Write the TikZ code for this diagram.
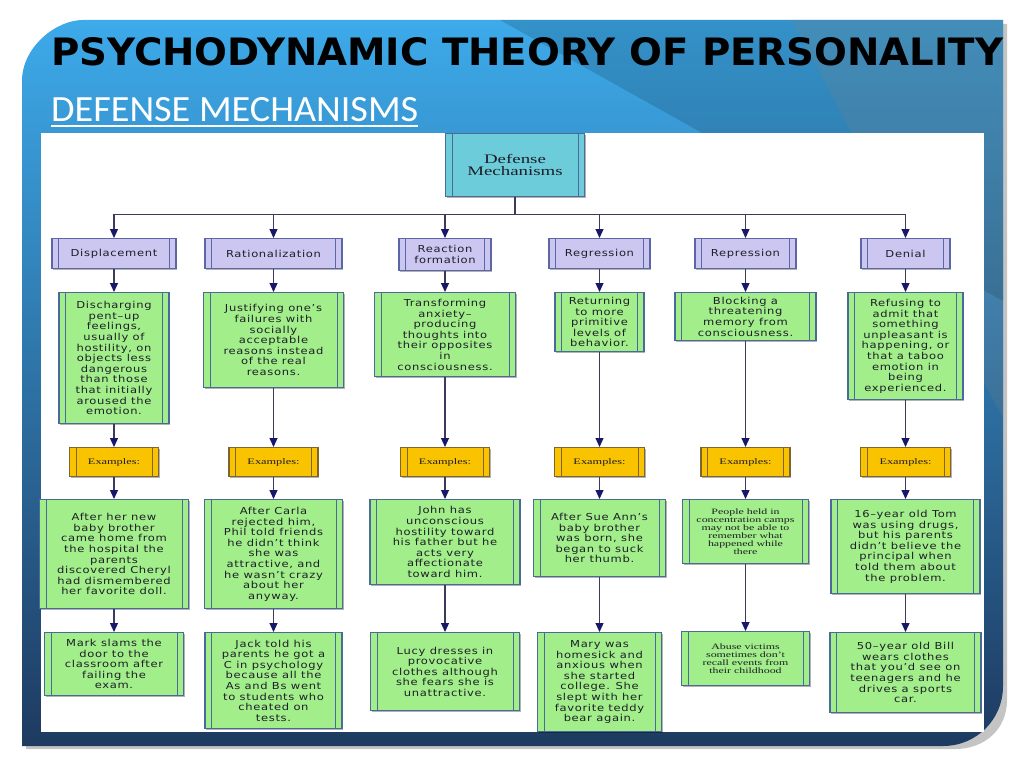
\documentclass[tikz,border=0pt]{standalone}
\usepackage{graphicx}
\usepackage{fontspec}
\setmainfont{Liberation Serif}
\newfontfamily\titlefont{DejaVu Sans}
\newfontfamily\subfont{Carlito}
\newfontfamily\boxsans{DejaVu Sans}[FakeStretch=1.2,LetterSpace=7]
\newfontfamily\boxserif{Liberation Serif}[FakeStretch=1.45]
\usetikzlibrary{arrows.meta,shadows,calc}
\definecolor{skyA}{HTML}{3DAAEA}
\definecolor{skyB}{HTML}{2C7DC0}
\definecolor{navyC}{HTML}{1E3A60}
\definecolor{shadowC}{HTML}{C4C4C4}
\definecolor{greenF}{HTML}{A2EE8A}
\definecolor{bordB}{HTML}{4A6A9C}
\definecolor{cyanF}{HTML}{6CCCDA}
\definecolor{lavF}{HTML}{CBC7F1}
\definecolor{lavB}{HTML}{5C66A6}
\definecolor{yelF}{HTML}{F9C300}
\definecolor{yelB}{HTML}{7D6430}
\definecolor{lineC}{HTML}{3C3C5A}
\definecolor{tipC}{HTML}{18186A}
\definecolor{txtC}{HTML}{1E1E28}
\tikzset{
  ppbox/.style={draw=#1, line width=1.3pt, inner sep=0pt, align=center, text=txtC, anchor=north,
    drop shadow={shadow xshift=1.3pt, shadow yshift=-1.3pt, opacity=0.3, fill=black},
    path picture={\draw[#1, line width=1pt]
      ([xshift=6.5pt]path picture bounding box.north west) -- ([xshift=6.5pt]path picture bounding box.south west)
      ([xshift=-6.5pt]path picture bounding box.north east) -- ([xshift=-6.5pt]path picture bounding box.south east);}},
  topbox/.style={ppbox=bordB, fill=cyanF, font=\boxserif\fontsize{13}{12.5}\selectfont},
  catbox/.style={ppbox=lavB, fill=lavF, minimum height=30, font=\boxsans\fontsize{9.6}{10.7}\selectfont},
  defbox/.style={ppbox=bordB, fill=greenF, font=\boxsans\fontsize{9.6}{10.6}\selectfont},
  serifbox/.style={ppbox=bordB, fill=greenF, font=\boxserif\fontsize{8.2}{7.9}\selectfont},
  exmbox/.style={ppbox=yelB, fill=yelF, minimum height=29, font=\boxserif\fontsize{8.5}{9}\selectfont},
  conn/.style={draw=lineC, line width=1.2pt, -{Triangle[width=8pt,length=9pt,color=tipC,fill=tipC]}},
}
\begin{document}
\begin{tikzpicture}[x=1pt,y=-1pt]
\useasboundingbox (0,0) rectangle (1024,768);
\fill[white] (0,0) rectangle (1024,768);
% panel
\fill[shadowC] (26,749) -- (26,85) .. controls (26,51.3) and (59.7,24) .. (87,24) -- (1007,24) -- (1007,700) .. controls (1007,729) and (985,749) .. (955,749) -- cycle;
\shade[top color=skyA, middle color=skyB, bottom color=navyC] (22,746) -- (22,81) .. controls (22,47.3) and (55.7,20) .. (83,20) -- (1003,20) -- (1003,686) .. controls (1003,719.7) and (976.3,746) .. (943,746) -- cycle;
\fill[black, opacity=0.14] (500,20) -- (1003,20) -- (1003,301) -- cycle;
\fill[gray, opacity=0.2] (792,20) -- (1003,20) -- (1003,418) -- cycle;
\fill[white] (41,133) rectangle (984,732);
% titles
\node[anchor=base west, inner sep=0pt, text=black] (title) at (51,66) {\resizebox{952pt}{28pt}{\titlefont\bfseries PSYCHODYNAMIC THEORY OF PERSONALITY}};
\node[anchor=base west, inner sep=0pt, text=white] (sub) at (51,121) {\resizebox{367pt}{24pt}{\subfont DEFENSE MECHANISMS}};
\draw[white, line width=2pt] ([yshift=-4.5pt]sub.base west) -- ([yshift=-4.5pt]sub.base east);
% top
\node[topbox, minimum width=139, minimum height=63] (top) at (515,133) {Defense\\Mechanisms};
% categories
\node[catbox, minimum width=124] (c1) at (114,238) {Displacement};
\node[catbox, minimum width=137] (c2) at (273.5,238) {Rationalization};
\node[catbox, minimum width=92, minimum height=32] (c3) at (445,238) {Reaction\\formation};
\node[catbox, minimum width=101] (c4) at (599.5,238) {Regression};
\node[catbox, minimum width=101] (c5) at (745.5,238) {Repression};
\node[catbox, minimum width=89] (c6) at (905.5,238) {Denial};
% definitions
\node[defbox, minimum width=110, minimum height=131] (d1) at (114,292) {Discharging\\pent–up\\feelings,\\usually of\\hostility, on\\objects less\\dangerous\\than those\\that initially\\aroused the\\emotion.};
\node[defbox, minimum width=140, minimum height=95] (d2) at (273.5,292) {Justifying one’s\\failures with\\socially\\acceptable\\reasons instead\\of the real\\reasons.};
\node[defbox, minimum width=141, minimum height=84] (d3) at (445,292) {Transforming\\anxiety–\\producing\\thoughts into\\their opposites\\in\\consciousness.};
\node[defbox, minimum width=89, minimum height=59] (d4) at (599.5,292) {Returning\\to more\\primitive\\levels of\\behavior.};
\node[defbox, minimum width=141, minimum height=48] (d5) at (745.5,292) {Blocking a\\threatening\\memory from\\consciousness.};
\node[defbox, minimum width=115, minimum height=107] (d6) at (905.5,292) {Refusing to\\admit that\\something\\unpleasant is\\happening, or\\that a taboo\\emotion in\\being\\experienced.};
% examples labels
\node[exmbox, minimum width=89] (e1) at (114,447) {Examples:};
\node[exmbox, minimum width=89] (e2) at (273.5,447) {Examples:};
\node[exmbox, minimum width=89] (e3) at (445,447) {Examples:};
\node[exmbox, minimum width=90] (e4) at (599.5,447) {Examples:};
\node[exmbox, minimum width=89] (e5) at (745.5,447) {Examples:};
\node[exmbox, minimum width=90] (e6) at (905.5,447) {Examples:};
% first examples
\node[defbox, minimum width=149, minimum height=109] (x1) at (114,499) {After her new\\baby brother\\came home from\\the hospital the\\parents\\discovered Cheryl\\had dismembered\\her favorite doll.};
\node[defbox, minimum width=138, minimum height=109] (x2) at (273.5,499) {After Carla\\rejected him,\\Phil told friends\\he didn’t think\\she was\\attractive, and\\he wasn’t crazy\\about her\\anyway.};
\node[defbox, minimum width=150, minimum height=85] (x3) at (445,499) {John has\\unconscious\\hostility toward\\his father but he\\acts very\\affectionate\\toward him.};
\node[defbox, minimum width=132, minimum height=77] (x4) at (599.5,499) {After Sue Ann’s\\baby brother\\was born, she\\began to suck\\her thumb.};
\node[serifbox, minimum width=126, minimum height=64] (x5) at (745.5,499) {People held in\\concentration camps\\may not be able to\\remember what\\happened while\\there};
\node[defbox, minimum width=149, minimum height=94] (x6) at (905.5,499) {16–year old Tom\\was using drugs,\\but his parents\\didn’t believe the\\principal when\\told them about\\the problem.};
% second examples
\node[defbox, minimum width=139, minimum height=63] (y1) at (114,632) {Mark slams the\\door to the\\classroom after\\failing the\\exam.};
\node[defbox, minimum width=137, minimum height=96] (y2) at (273.5,632) {Jack told his\\parents he got a\\C in psychology\\because all the\\As and Bs went\\to students who\\cheated on\\tests.};
\node[defbox, minimum width=149, minimum height=78] (y3) at (445,632) {Lucy dresses in\\provocative\\clothes although\\she fears she is\\unattractive.};
\node[defbox, minimum width=124, minimum height=99] (y4) at (599.5,632) {Mary was\\homesick and\\anxious when\\she started\\college. She\\slept with her\\favorite teddy\\bear again.};
\node[serifbox, minimum width=128, minimum height=54] (y5) at (745.5,631) {Abuse victims\\sometimes don’t\\recall events from\\their childhood};
\node[defbox, minimum width=151, minimum height=80] (y6) at (905.5,632) {50–year old Bill\\wears clothes\\that you’d see on\\teenagers and he\\drives a sports\\car.};
% connectors
\foreach \c in {c1,c2,c3,c4,c5,c6} \draw[conn] (top.south) -- ++(0,17) -| (\c.north);
\foreach \i in {1,...,6} {
  \draw[conn] (c\i.south) -- (c\i.south |- d\i.north);
  \draw[conn] (d\i.south) -- (d\i.south |- e\i.north);
  \draw[conn] (e\i.south) -- (e\i.south |- x\i.north);
  \draw[conn] (x\i.south) -- (x\i.south |- y\i.north);
}
\end{tikzpicture}
\end{document}
